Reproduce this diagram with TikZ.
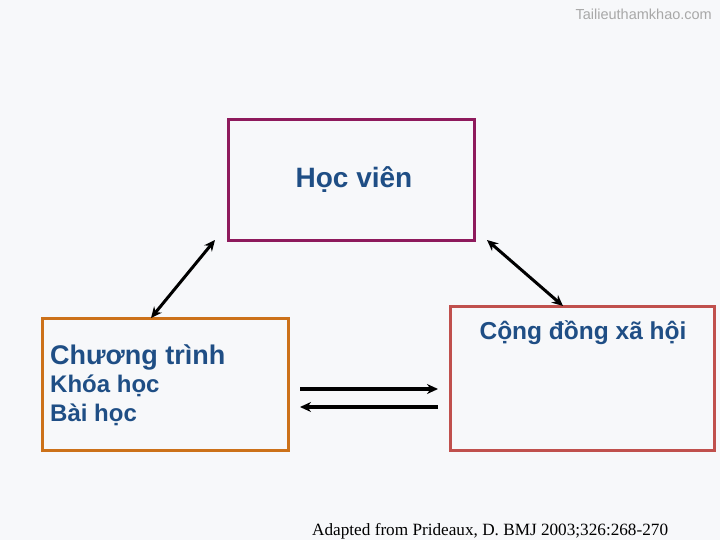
\documentclass[tikz,border=0pt]{standalone}
\usepackage{fontspec}
\setmainfont{Liberation Sans}
\newfontfamily\serifft{Liberation Serif}
\usetikzlibrary{arrows.meta,calc}
\definecolor{bg}{HTML}{F7F8FA}
\definecolor{tblue}{HTML}{1F4E85}
\definecolor{hvc}{HTML}{8E1A5C}
\definecolor{ctc}{HTML}{CC7119}
\definecolor{cdc}{HTML}{C0504D}
\definecolor{wm}{HTML}{A8A8A8}
\begin{document}
\begin{tikzpicture}[x=1pt,y=-1pt,
  box/.style={draw,line width=3pt,inner sep=0pt,outer sep=0pt},
  lbl/.style={text=tblue,font=\bfseries,inner sep=0pt},
  arr/.style={line width=3.2pt,-{Stealth[length=11pt,width=10pt]}},
  darr/.style={line width=3pt,{Stealth[length=11pt,width=10pt]}-{Stealth[length=11pt,width=10pt]}}]
\fill[bg] (0,0) rectangle (720,540);
\useasboundingbox (0,0) rectangle (720,540);
% boxes
\node[box,draw=hvc,minimum width=246pt,minimum height=120pt] (hv) at (351,180) {};
\node[box,draw=ctc,minimum width=246pt,minimum height=132pt] (ct) at (165,384) {};
\node[box,draw=cdc,minimum width=264pt,minimum height=144pt] (cd) at (582,378) {};
% texts
\node[lbl,anchor=base] (thv) at (354,188) {\fontsize{28}{32}\selectfont Học viên};
\node[lbl,anchor=base west] (tct1) at (50,364) {\fontsize{27}{30}\selectfont Chương trình};
\node[lbl,anchor=base west] (tct2) at (50,392) {\fontsize{24}{28}\selectfont Khóa học};
\node[lbl,anchor=base west] (tct3) at (50,421) {\fontsize{24}{28}\selectfont Bài học};
\node[lbl,anchor=base] (tcd) at (583,339) {\fontsize{24.5}{28}\selectfont Cộng đồng xã hội};
\node[anchor=base west,inner sep=0pt,font=\serifft\fontsize{17.2}{20}\selectfont] (src) at (312,535.5) {Adapted from Prideaux, D. BMJ 2003;326:268-270};
\node[anchor=base east,inner sep=0pt,text=wm,font=\fontsize{14.5}{16}\selectfont] (wmk) at (712,20) {Tailieuthamkhao.com};
% connector end points
\coordinate (a1) at ($(hv.south west)+(-13,0)$);
\coordinate (a2) at ($(ct.north west)+(109,0)$);
\coordinate (b1) at ($(hv.south east)+(13,0)$);
\coordinate (b2) at ($(cd.north west)+(113,0)$);
\coordinate (c1) at ($(ct.east)+(12,5)$);
\coordinate (c2) at ($(cd.west)+(-12,11)$);
\coordinate (d1) at ($(cd.west)+(-12,29)$);
\coordinate (d2) at ($(ct.east)+(12,23)$);
\draw[darr] (a1) -- (a2);
\draw[darr] (b1) -- (b2);
\draw[arr] (c1) -- (c2);
\draw[arr] (d1) -- (d2);
\end{tikzpicture}
\end{document}
